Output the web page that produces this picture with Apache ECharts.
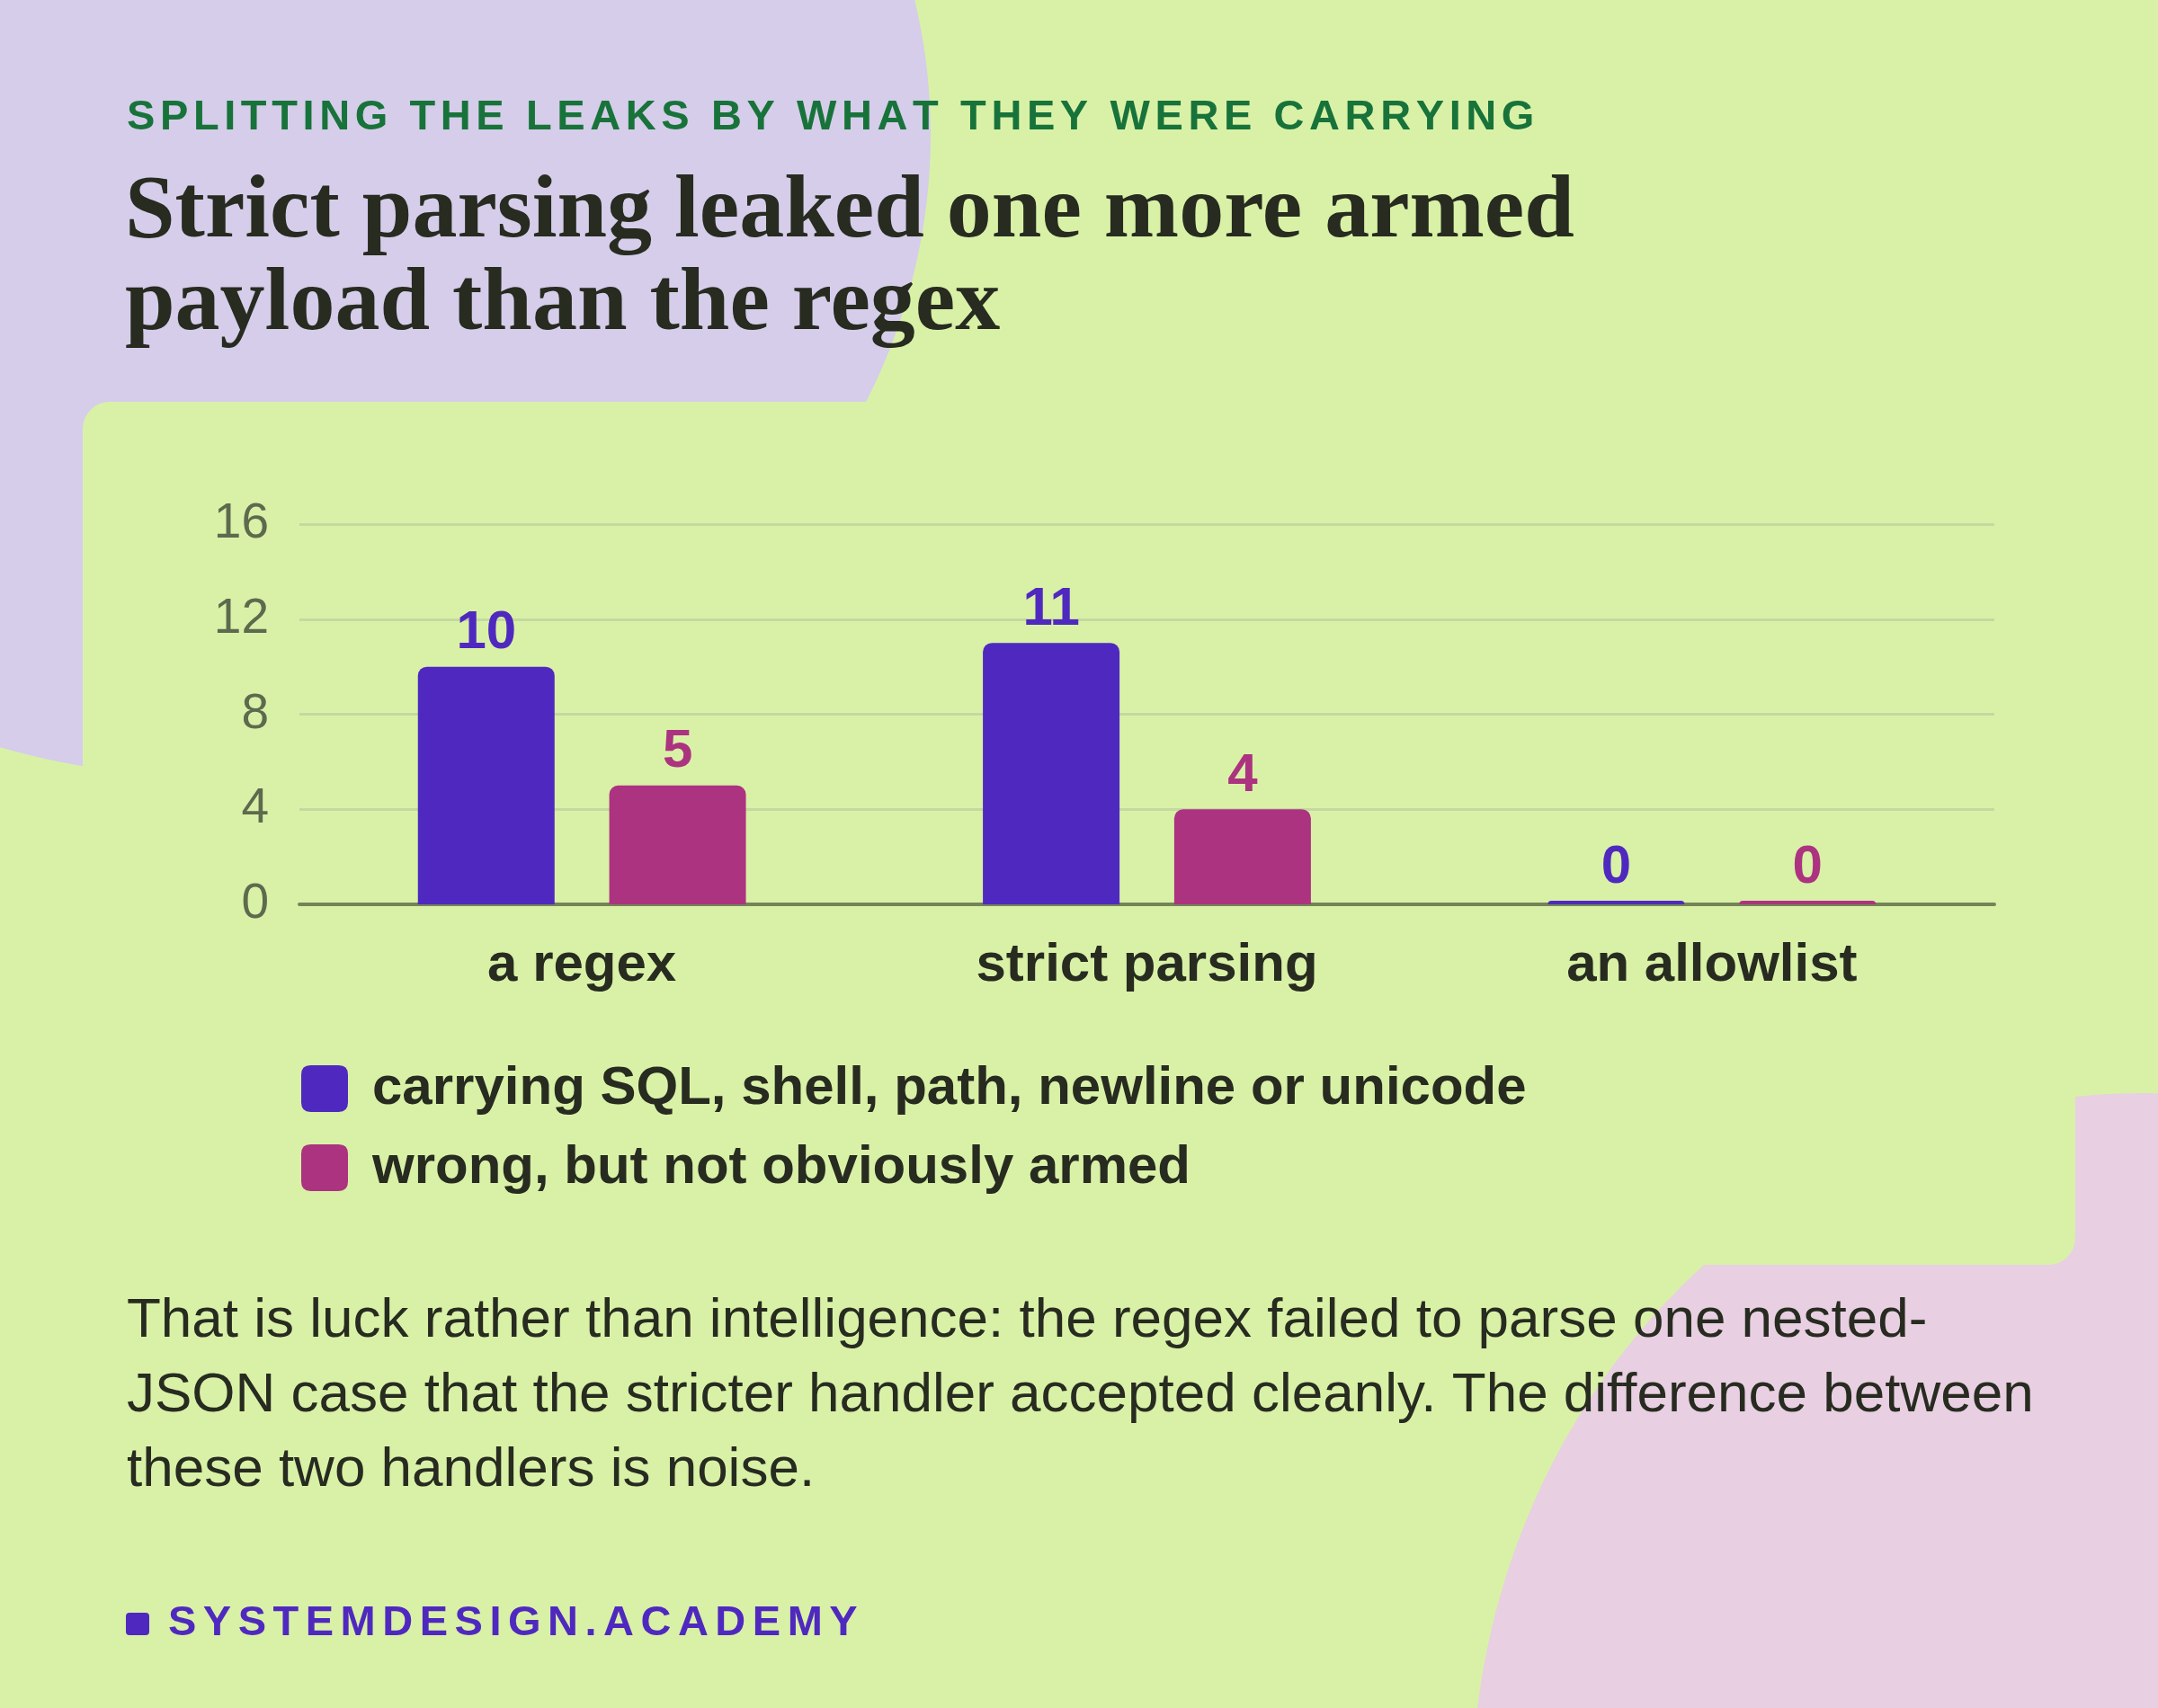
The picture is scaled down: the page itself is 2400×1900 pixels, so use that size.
<!DOCTYPE html>
<html>
<head>
<meta charset="utf-8">
<script src="https://cdn.jsdelivr.net/npm/echarts@6/dist/echarts.min.js"></script>
<style>
  html, body { margin: 0; padding: 0; background: #d9f1a7; }
  #chart { width: 2400px; height: 1900px; }
</style>
</head>
<body>
<div id="chart"></div>
<script>
const categories = ['a regex', 'strict parsing', 'an allowlist'];
const armedCounts = [10, 11, 0];
const otherCounts = [5, 4, 0];
const seriesNames = ['carrying SQL, shell, path, newline or unicode', 'wrong, but not obviously armed'];
const yMin = 0;
const yMax = 16;
const yStep = 4;

const kicker = 'SPLITTING THE LEAKS BY WHAT THEY WERE CARRYING';
const titleLines = ['Strict parsing leaked one more armed', 'payload than the regex'];
const noteLines = [
  'That is luck rather than intelligence: the regex failed to parse one nested-',
  'JSON case that the stricter handler accepted cleanly. The difference between',
  'these two handlers is noise.'
];
const footer = 'SYSTEMDESIGN.ACADEMY';

const SANS = "'Liberation Sans', Arial, Helvetica, sans-serif";
const SERIF = "'Liberation Serif', 'Times New Roman', serif";
const INK = '#272b20';
const BLUE = '#4f29bf';
const PINK = '#ac3380';

// letter-spaced caps text, one glyph per element
const measureCtx = document.createElement('canvas').getContext('2d');
function spacedText(str, x, y, font, spacing, fill) {
  measureCtx.font = font;
  const children = [];
  let cx = 0;
  for (const ch of str) {
    children.push({
      type: 'text', x: cx, y: 0,
      style: { text: ch, font: font, fill: fill, align: 'left', textAlign: 'left', verticalAlign: 'middle', textVerticalAlign: 'middle' }
    });
    cx += measureCtx.measureText(ch).width + spacing;
  }
  return { type: 'group', x: x, y: y, children: children };
}

function plainText(str, x, y, font, fill) {
  return {
    type: 'text', x: x, y: y,
    style: { text: str, font: font, fill: fill, align: 'left', textAlign: 'left', verticalAlign: 'middle', textVerticalAlign: 'middle' }
  };
}

const titleFont = 'bold 100px ' + SERIF;
const noteFont = '62px ' + SANS;

const graphics = [
  // background blobs
  { type: 'circle', x: 241, y: 150, scaleY: 715 / 794, shape: { cx: 0, cy: 0, r: 794 }, style: { fill: '#d5cdea' }, z: -30 },
  { type: 'circle', x: 2383, y: 2000, scaleY: 784 / 746, shape: { cx: 0, cy: 0, r: 746 }, style: { fill: '#e8cfe2' }, z: -30 },
  // chart panel
  { type: 'rect', shape: { x: 92, y: 447, width: 2216, height: 960, r: 30 }, style: { fill: '#d9f1a7' }, z: -20 },
  spacedText(kicker, 141, 131, 'bold 47px ' + SANS, 5.6, '#18733a'),
  plainText(titleLines[0], 139, 237, titleFont, INK),
  plainText(titleLines[1], 139, 340, titleFont, INK),
  plainText(noteLines[0], 141, 1470, noteFont, INK),
  plainText(noteLines[1], 141, 1553, noteFont, INK),
  plainText(noteLines[2], 141, 1636, noteFont, INK),
  { type: 'rect', shape: { x: 140, y: 1794, width: 26, height: 25, r: 4 }, style: { fill: BLUE } },
  spacedText(footer, 187, 1806, 'bold 47px ' + SANS, 7.5, BLUE)
];

const chart = echarts.init(document.getElementById('chart'), null, { renderer: 'canvas' });

function barSeries(name, values, color) {
  return {
    name: name,
    type: 'bar',
    data: values,
    barWidth: 152,
    barGap: '40%',
    barMinHeight: 4,
    itemStyle: { color: color, borderRadius: [10, 10, 0, 0] },
    label: {
      show: true, position: 'top', distance: 7,
      color: color, fontSize: 60, fontWeight: 'bold', fontFamily: SANS, lineHeight: 60
    }
  };
}

chart.setOption({
  backgroundColor: '#d9f1a7',
  animation: false,
  graphic: graphics,
  grid: { left: 333, right: 182, top: 583, bottom: 894, containLabel: false },
  legend: {
    orient: 'vertical',
    left: 330,
    top: 1176,
    itemWidth: 52,
    itemHeight: 52,
    itemGap: 28,
    icon: 'path://M2,0 H8 Q10,0 10,2 V8 Q10,10 8,10 H2 Q0,10 0,8 V2 Q0,0 2,0 Z',
    textStyle: { fontSize: 60, fontWeight: 'bold', color: INK, fontFamily: SANS, lineHeight: 60, padding: [0, 0, 0, 22] },
    data: seriesNames
  },
  xAxis: {
    type: 'category',
    data: categories,
    axisTick: { show: false },
    axisLine: { lineStyle: { color: '#748456', width: 4 } },
    axisLabel: { color: INK, fontSize: 60, fontWeight: 'bold', fontFamily: SANS, margin: 38, lineHeight: 60 }
  },
  yAxis: {
    type: 'value',
    min: yMin,
    max: yMax,
    interval: yStep,
    axisLine: { show: false },
    axisTick: { show: false },
    splitLine: { lineStyle: { color: '#c4d9a0', width: 3 } },
    axisLabel: { color: '#5e6a4e', fontSize: 55, fontFamily: SANS, margin: 34 }
  },
  series: [
    barSeries(seriesNames[0], armedCounts, BLUE),
    barSeries(seriesNames[1], otherCounts, PINK)
  ]
});
</script>
</body>
</html>
